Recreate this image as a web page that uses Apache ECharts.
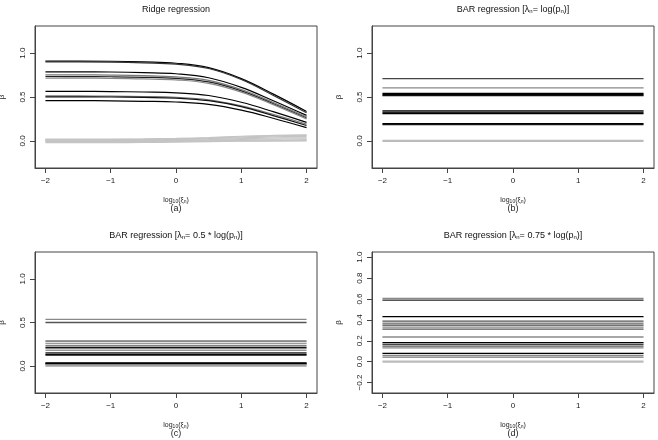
<!DOCTYPE html>
<html>
<head>
<meta charset="utf-8">
<script src="https://cdn.jsdelivr.net/npm/echarts@6/dist/echarts.min.js"></script>
<style>
  html, body { margin: 0; padding: 0; background: #fff; }
  #main { width: 658px; height: 440px; }
</style>
</head>
<body>
<div id="main"></div>
<script>
// x grid for the ridge path (log10 of penalty)
var ridgeX = [-2, -1.5, -1, -0.5, 0, 0.5, 1, 1.5, 2];

// ridge paths
var ridgePaths = [
    [0.910, 0.910, 0.908, 0.900, 0.885, 0.835, 0.710, 0.530, 0.335],
    [0.900, 0.900, 0.898, 0.890, 0.875, 0.825, 0.700, 0.515, 0.320],
    [0.787, 0.787, 0.785, 0.778, 0.765, 0.720, 0.610, 0.455, 0.290],
    [0.753, 0.752, 0.750, 0.744, 0.730, 0.690, 0.585, 0.435, 0.275],
    [0.734, 0.733, 0.731, 0.725, 0.712, 0.672, 0.570, 0.420, 0.260],
    [0.716, 0.715, 0.713, 0.707, 0.695, 0.655, 0.555, 0.410, 0.250],
    [0.564, 0.564, 0.562, 0.557, 0.548, 0.517, 0.440, 0.330, 0.210],
    [0.512, 0.512, 0.510, 0.505, 0.497, 0.468, 0.398, 0.300, 0.190],
    [0.502, 0.502, 0.500, 0.495, 0.487, 0.458, 0.390, 0.285, 0.175],
    [0.458, 0.458, 0.456, 0.451, 0.443, 0.415, 0.350, 0.255, 0.150]
];
var ridgeColors = ['#000', '#333', '#000', '#777', '#222', '#888', '#000', '#777', '#111', '#000'];

// paths of the zero coefficients
var ridgeZero = [
    [-0.020, -0.020, -0.020, -0.018, -0.015, -0.010, -0.005, -0.002, 0.000],
    [-0.010, -0.010, -0.010, -0.009, -0.006, -0.002, 0.004, 0.008, 0.010],
    [0.000, 0.000, 0.000, 0.001, 0.003, 0.008, 0.015, 0.020, 0.022],
    [0.005, 0.005, 0.005, 0.006, 0.009, 0.015, 0.024, 0.032, 0.035],
    [0.010, 0.010, 0.010, 0.012, 0.016, 0.024, 0.035, 0.045, 0.050],
    [0.015, 0.015, 0.015, 0.017, 0.022, 0.031, 0.044, 0.056, 0.062],
    [0.020, 0.020, 0.020, 0.022, 0.028, 0.038, 0.052, 0.063, 0.068],
    [0.000, 0.000, 0.000, 0.000, 0.000, 0.000, 0.000, 0.000, 0.005]
];

// BAR estimates (flat over the whole range)
var barB = [0.710, 0.605, 0.540, 0.527, 0.516, 0.342, 0.326, 0.310, 0.196, 0.185];
var barBColors = ['#444', '#888', '#000', '#000', '#111', '#000', '#222', '#000', '#000', '#111'];
var barC = [0.535, 0.500, 0.290, 0.280, 0.258, 0.232, 0.210, 0.181, 0.155, 0.135, 0.126, 0.035, 0.030, 0.025, 0.012];
var barCColors = ['#888', '#555', '#777', '#888', '#999', '#555', '#111', '#999', '#555', '#000', '#111', '#000', '#000', '#000', '#888'];
var barD = [0.605, 0.588, 0.431, 0.389, 0.368, 0.349, 0.330, 0.312, 0.236, 0.182, 0.166, 0.149, 0.133, 0.079, 0.061, 0.043];
var barDColors = ['#888', '#555', '#000', '#555', '#888', '#444', '#888', '#555', '#888', '#000', '#444', '#555', '#888', '#000', '#888', '#777'];
var zeroLine = 0;

var xTicks = [-2, -1, 0, 1, 2];
var yTicksA = [0, 0.5, 1.0];
var yTicksD = [-0.2, 0, 0.2, 0.4, 0.6, 0.8, 1.0];
var panelTags = ['(a)', '(b)', '(c)', '(d)'];

var FONT = '"Liberation Sans", Arial, sans-serif';

var chart = echarts.init(document.getElementById('main'));

var grids = [
    {left: 35, top: 26, width: 282, height: 142},
    {left: 372, top: 26, width: 282, height: 142},
    {left: 35, top: 252, width: 282, height: 141},
    {left: 372, top: 252, width: 282, height: 141}
];
grids.forEach(function (g) {
    g.show = true;
    g.borderColor = '#444';
    g.borderWidth = 1;
    g.backgroundColor = 'transparent';
    g.containLabel = false;
    g.outerBoundsMode = 'none';
});

function fmtNum(v, dec) {
    var s = dec ? Number(v).toFixed(dec) : String(Math.round(v));
    return s.replace('-', '\u2212');
}

var nameRich = {
    t: {fontSize: 7, fontFamily: FONT, color: '#222', lineHeight: 10, verticalAlign: 'bottom'},
    s: {fontSize: 5, fontFamily: FONT, color: '#222', lineHeight: 8, verticalAlign: 'bottom'},
    p: {fontSize: 9, fontFamily: FONT, color: '#222', lineHeight: 10}
};

var xAxes = [0, 1, 2, 3].map(function (i) {
    return {
        gridIndex: i, type: 'value', min: -2.16, max: 2.16,
        splitLine: {show: false},
        axisLine: {show: true, onZero: false, lineStyle: {color: '#444', width: 1}},
        axisTick: {show: true, length: 5, lineStyle: {color: '#444'}, customValues: xTicks},
        axisLabel: {customValues: xTicks, fontSize: 8, fontFamily: FONT, color: '#222', margin: 9,
            formatter: function (v) { return fmtNum(v, 0); }},
        name: '{t|log}{s|10}{t|(\u03be}{s|n}{t|)}\n{p|' + panelTags[i] + '}',
        nameLocation: 'middle', nameGap: 26,
        nameTextStyle: {rich: nameRich}
    };
});

var yAxes = [0, 1, 2, 3].map(function (i) {
    var d = i === 3;
    return {
        gridIndex: i, type: 'value',
        min: d ? -0.3 : -0.31, max: d ? 1.05 : 1.31,
        splitLine: {show: false},
        axisLine: {show: true, onZero: false, lineStyle: {color: '#444', width: 1}},
        axisTick: {show: true, length: 5, lineStyle: {color: '#444'}, customValues: d ? yTicksD : yTicksA},
        axisLabel: {customValues: d ? yTicksD : yTicksA, fontSize: 8, fontFamily: FONT, color: '#222',
            rotate: 90, margin: 8,
            formatter: function (v) { return fmtNum(v, 1); }},
        name: '\u03b2', nameLocation: 'middle', nameGap: 29, nameRotate: 90,
        nameTextStyle: {fontSize: 8, fontFamily: FONT, color: '#222'}
    };
});

var series = [];
function addLine(gi, data, color, width, smooth) {
    series.push({
        type: 'line', xAxisIndex: gi, yAxisIndex: gi, data: data,
        showSymbol: false, symbol: 'none', smooth: smooth ? 0.4 : false, silent: true,
        lineStyle: {color: color, width: width}
    });
}

// (a) ridge
ridgeZero.forEach(function (p) {
    addLine(0, p.map(function (v, k) { return [ridgeX[k], v]; }), '#c4c4c4', 1.2, true);
});
ridgePaths.forEach(function (p, j) {
    addLine(0, p.map(function (v, k) { return [ridgeX[k], v]; }), ridgeColors[j], 1.2, true);
});

// (b)-(d) BAR, flat lines
function addFlat(gi, vals, cols) {
    addLine(gi, [[-2, zeroLine], [2, zeroLine]], '#bbb', 2.2, false);
    vals.forEach(function (v, j) {
        addLine(gi, [[-2, v], [2, v]], cols[j], 1.3, false);
    });
}
addFlat(1, barB, barBColors);
addFlat(2, barC, barCColors);
addFlat(3, barD, barDColors);

var titleRich = {
    t: {fontSize: 9, fontFamily: FONT, fill: '#111', lineHeight: 12, verticalAlign: 'bottom'},
    s: {fontSize: 6, fontFamily: FONT, fill: '#111', lineHeight: 9, verticalAlign: 'bottom'}
};
function titleText(x, y, text) {
    return {
        type: 'text', x: x, y: y, silent: true,
        style: {text: text, align: 'center', verticalAlign: 'middle', rich: titleRich,
            font: '9px ' + FONT, fill: '#111'}
    };
}

chart.setOption({
    animation: false,
    backgroundColor: '#fff',
    grid: grids,
    xAxis: xAxes,
    yAxis: yAxes,
    series: series,
    graphic: [
        titleText(176, 8, '{t|Ridge regression}'),
        titleText(513, 8, '{t|BAR regression [\u03bb}{s|n}{t|= log(p}{s|n}{t|)]}'),
        titleText(176, 234, '{t|BAR regression [\u03bb}{s|n}{t|= 0.5 * log(p}{s|n}{t|)]}'),
        titleText(513, 234, '{t|BAR regression [\u03bb}{s|n}{t|= 0.75 * log(p}{s|n}{t|)]}')
    ]
});
</script>
</body>
</html>
